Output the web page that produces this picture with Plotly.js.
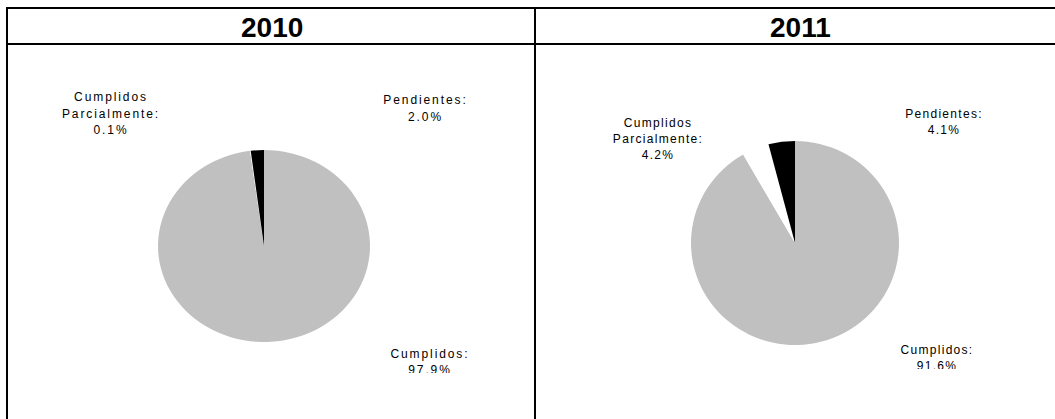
<!DOCTYPE html>
<html>
<head>
<meta charset="utf-8">
<script src="https://cdn.plot.ly/plotly-3.0.1.min.js"></script>
<style>
html,body{margin:0;padding:0;background:#fff;}
#chart{width:1055px;height:419px;}
</style>
</head>
<body>
<div id="chart"></div>
<script>
// ---- data ----
const years = ['2010', '2011'];
const categories = ['Pendientes', 'Cumplidos Parcialmente', 'Cumplidos'];
const labelLines = [['Pendientes:'], ['Cumplidos', 'Parcialmente:'], ['Cumplidos:']];
const values2010 = [2.0, 0.1, 97.9];
const values2011 = [4.1, 4.2, 91.6];
const sliceColors = ['#000000', '#FFFFFF', '#C0C0C0'];

// ---- layout (pixels of the 1055x419 page) ----
const W = 1055, H = 419;
const px = v => v / W;
const py = v => 1 - v / H;

// each chart picture is slightly stretched horizontally (rx vs ry)
const panels = [
  { values: values2010, cx: 264, cy: 246, rx: 106, ry: 96, clip: 373, xr: [0, 535], xd: [0, 535],
    spacing: '1.9px', pitch: 16.5, font: 12, headerX: 271.5,
    pos: [{x: 425.5, y: 101}, {x: 111, y: 98}, {x: 430, y: 354.5}] },
  { values: values2011, cx: 795, cy: 243, rx: 104, ry: 102, clip: 369, xr: [535, 1055], xd: [535, 1055],
    spacing: '1.3px', pitch: 16, font: 12, headerX: 800,
    pos: [{x: 944, y: 115}, {x: 658, y: 124}, {x: 937, y: 351}] }
];

const traces = [];
const layout = {
  width: W, height: H,
  margin: {l: 0, r: 0, t: 0, b: 0},
  paper_bgcolor: '#ffffff', plot_bgcolor: 'rgba(0,0,0,0)',
  showlegend: false,
  shapes: [], annotations: []
};

panels.forEach((p, i) => {
  // Slices run counter-clockwise from 12 o'clock in the order of `categories`;
  // drawn clockwise in reversed order, which gives the same arrangement.
  traces.push({
    type: 'pie', values: p.values.slice().reverse(), labels: categories.slice().reverse(), sort: false,
    direction: 'clockwise', rotation: 0,
    marker: {colors: sliceColors.slice().reverse(), line: {width: 0}},
    textinfo: 'none', hoverinfo: 'skip',
    domain: {x: [px(p.cx - p.ry), px(p.cx + p.ry)], y: [py(p.cy + p.ry), py(p.cy - p.ry)]}
  });
  const xs = [], ys = [], ts = [];
  categories.forEach((c, k) => {
    const lines = labelLines[k].concat([p.values[k].toFixed(1) + '%']);
    lines.forEach((ln, j) => {
      xs.push(p.pos[k].x); ys.push(p.pos[k].y + j * p.pitch); ts.push(ln);
    });
  });
  const xa = i === 0 ? 'x' : 'x2', ya = i === 0 ? 'y' : 'y2';
  traces.push({
    type: 'scatter', mode: 'text', x: xs, y: ys, text: ts,
    textposition: 'middle center', cliponaxis: true, hoverinfo: 'skip',
    textfont: {family: 'Liberation Sans, Arial, sans-serif', size: p.font, color: '#000'},
    xaxis: xa, yaxis: ya
  });
  const axX = {domain: [px(p.xd[0]), px(p.xd[1])], range: p.xr, visible: false, fixedrange: true};
  const axY = {domain: [py(p.clip), 1], range: [p.clip, 0], visible: false, fixedrange: true};
  if (i === 0) { layout.xaxis = axX; layout.yaxis = axY; }
  else { axX.anchor = 'y2'; axY.anchor = 'x2'; layout.xaxis2 = axX; layout.yaxis2 = axY; }

  layout.annotations.push({
    text: '<b>' + years[i] + '</b>', xref: 'paper', yref: 'paper',
    x: px(p.headerX), y: py(27), xanchor: 'center', yanchor: 'middle', showarrow: false,
    font: {family: 'Liberation Sans, Arial, sans-serif', size: 28, color: '#000'}
  });
});

const ln = (x0, y0, x1, y1) => ({type: 'line', xref: 'paper', yref: 'paper', layer: 'above',
  x0: px(x0), y0: py(y0), x1: px(x1), y1: py(y1), line: {color: '#000', width: 2}});
layout.shapes.push(ln(6, 8, 1060, 8));
layout.shapes.push(ln(6, 44, 1060, 44));
layout.shapes.push(ln(7, 7, 7, 425));
layout.shapes.push(ln(535, 7, 535, 425));

Plotly.newPlot('chart', traces, layout, {staticPlot: true, displayModeBar: false}).then(gd => {
  // horizontal stretch of each pie about its centre
  gd.querySelectorAll('.pielayer .trace').forEach((g, i) => {
    const p = panels[i];
    if (!p) return;
    const s = p.rx / p.ry;
    g.setAttribute('transform', `translate(${p.cx},0) scale(${s},1) translate(${-p.cx},0)`);
  });
  [['xy', panels[0].spacing], ['x2y2', panels[1].spacing]].forEach(([sp, s]) => {
    gd.querySelectorAll('.subplot.' + sp + ' .textpoint text').forEach(t => {
      t.style.letterSpacing = s;
    });
  });
});
</script>
</body>
</html>
